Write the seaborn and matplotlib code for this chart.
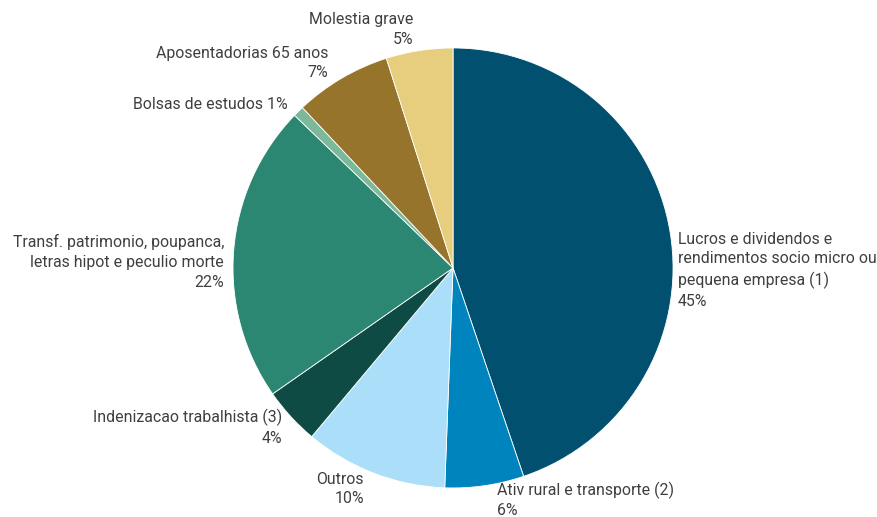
import numpy as np
import pandas as pd
import matplotlib
matplotlib.use("Agg")
import matplotlib.pyplot as plt
import seaborn as sns

# Dados (percentuais)
categorias = [
    "Lucros e dividendos e\nrendimentos socio micro ou\npequena empresa (1)",
    "Ativ rural e transporte (2)",
    "Outros",
    "Indenizacao trabalhista (3)",
    "Transf. patrimonio, poupanca,\nletras hipot e peculio morte",
    "Bolsas de estudos",
    "Aposentadorias 65 anos",
    "Molestia grave",
]
valores = [44.8, 5.8, 10.5, 4.2, 21.9, 0.8, 7.1, 4.9]

# Estilo
cores = ["#02506F", "#0084BD", "#ABDFF9", "#0E4B44",
         "#2B8772", "#7CB89A", "#97742C", "#E6CE7E"]
separadores = ["\n", "\n", "\n", "\n", "\n", " ", "\n", "\n"]
label_xy = [(1.023, -0.01), (0.2, -0.97), (-0.405, -1.005), (-0.777, -0.725),
            (-1.041, 0.027), (-0.75, 0.745), (-0.568, 0.932), (-0.182, 1.084)]
label_ha = ["left", "left", "right", "right", "right", "right", "right", "right"]
label_va = ["center", "top", "center", "center", "center", "center", "center", "center"]

sns.set_theme(style="white")
plt.rcParams['font.family'] = ['Roboto', 'DejaVu Sans']

df = pd.DataFrame({"categoria": categorias, "valor": valores})

fig = plt.figure(figsize=(8.77, 5.17), dpi=100)
ax = fig.add_axes([0, 0, 1, 1])
ax.pie(df["valor"], colors=cores, startangle=90, counterclock=False,
       wedgeprops=dict(edgecolor="white", linewidth=0.6))

for i, row in df.iterrows():
    txt = f"{row['categoria']}{separadores[i]}{row['valor']:.0f}%"
    ax.text(label_xy[i][0], label_xy[i][1], txt, ha=label_ha[i], va=label_va[i],
            multialignment=label_ha[i], fontsize=11.4, color="#3F3F3F",
            linespacing=1.4)

ax.set_xlim(-2.059, 1.927)
ax.set_ylim(-1.132, 1.218)
ax.set_aspect("auto")
ax.axis("off")

fig.savefig("out.png", dpi=100)
